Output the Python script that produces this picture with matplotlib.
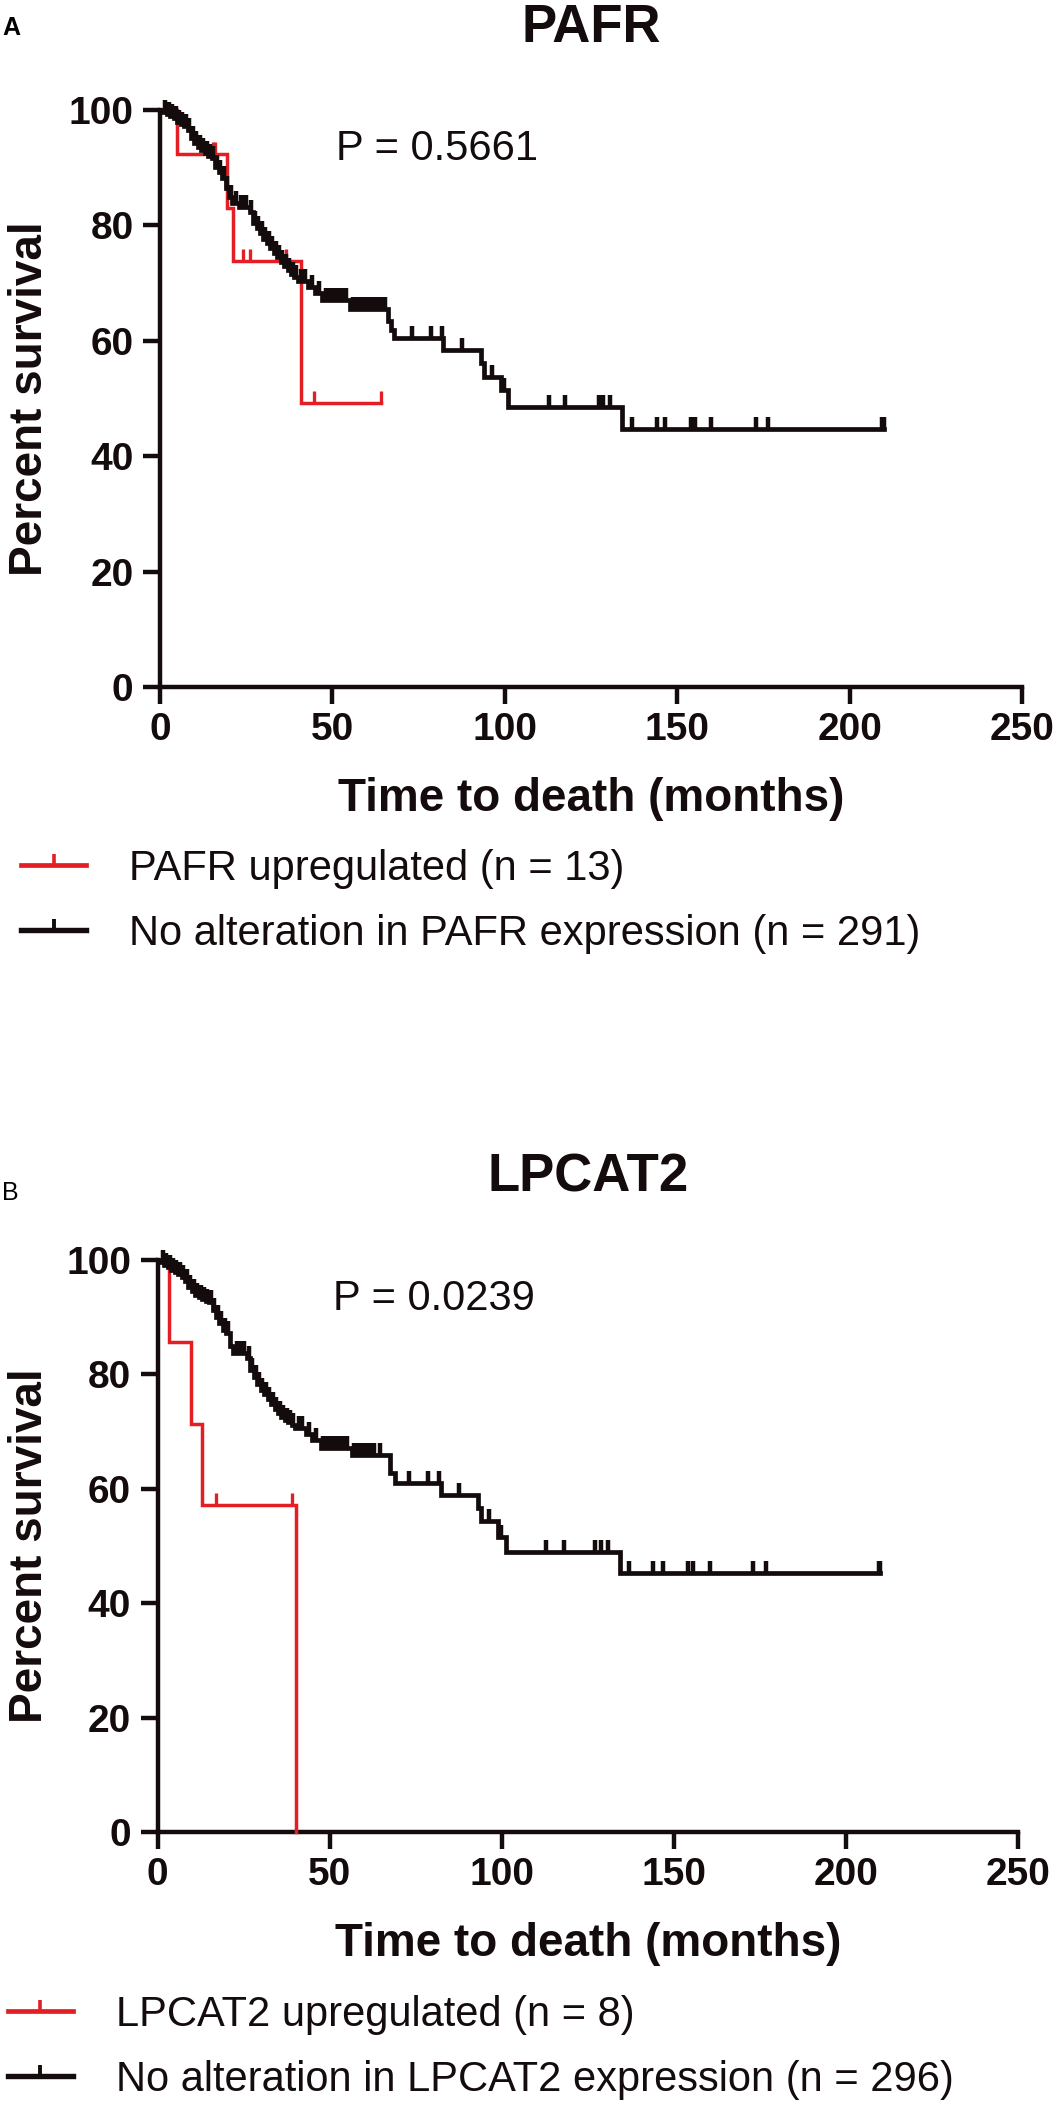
import numpy as np
import matplotlib
matplotlib.use('Agg')
import matplotlib.pyplot as plt
from matplotlib.lines import Line2D

plt.rcParams['font.family'] = ['Liberation Sans', 'DejaVu Sans']

RED = '#e31e24'
BLACK = '#140c0c'

# ---- panel A: PAFR ----
pafr_up_t = [5.0, 19.3, 21.2, 41.0]
pafr_up_s = [92.3, 83.1, 73.8, 49.2]
pafr_up_cens = [15.4, 16.0, 24.1, 26.0, 36.4, 44.8, 64.1]
pafr_up_end = 64.1

pafr_no_t = [1, 2, 3, 4, 5, 6, 7, 8, 9, 10, 11, 12, 13, 14, 15, 16, 17, 18, 19, 20,
             21, 23, 26, 27, 28, 29, 30, 31, 32, 33, 34, 35, 36, 37, 38, 39, 40,
             43, 45, 47, 55, 66, 67, 68, 82, 93, 94, 99, 101, 134]
pafr_no_s = [99.7, 99.3, 99.0, 98.6, 98.0, 97.6, 97.3, 96.6, 95.1, 94.2,
             93.6, 93.0, 92.5, 92.0, 91.6, 90.2, 89.2, 88.2, 86.4, 85.0,
             83.8, 83.2, 82.4, 80.4, 79.5, 78.6, 77.6, 76.9, 76.0, 75.2,
             74.5, 73.7, 73.0, 72.3, 71.6, 71.0, 70.4,
             69.4, 68.2, 67.1, 65.5, 63.5, 61.9, 60.4, 58.4, 56.2, 53.8, 51.5, 48.6, 44.8]
pafr_no_cens = [1.5, 2.5, 3.5, 4.5, 5.5, 6.5, 7.5, 8.5, 9.5, 10.5, 11.5, 12.5, 13.5, 14.5,
                15.5, 16.5, 17.5, 18.5, 19.5, 20.5, 22, 23.5, 24, 25, 26.5, 27.5, 28.5,
                29.5, 30.5, 31.5, 32.5, 33.5, 34.5, 35.5, 36.5, 37.5, 38.5, 39.5, 41, 42,
                44, 46, 48, 49, 50, 51, 52, 53, 54, 56, 57, 58, 59, 60, 61, 62, 63, 64,
                65.3, 73.2, 78.5, 81.9, 87.7, 96.3, 99.7, 112.7, 117.5, 127.2, 128.6,
                130.5, 136.8, 144.0, 146.4, 154.1, 155.1, 159.9, 172.9, 176.3, 209.5, 210]
pafr_no_end = 210

# ---- panel B: LPCAT2 ----
lpcat_up_t = [3.4, 9.6, 13.0, 40.3]
lpcat_up_s = [85.7, 71.4, 57.1, 0.0]
lpcat_up_cens = [16.9, 39.0]
lpcat_up_end = 40.3

lpcat_no_t = [1, 2, 3, 4, 5, 6, 7, 8, 9, 10, 11, 12, 13, 14, 15, 16, 17, 18, 19, 20,
              21, 22, 26, 27, 28, 29, 30, 31, 32, 33, 34, 35, 36, 37, 38, 39, 40,
              43, 45, 47.5, 56.4, 67.5, 69, 82.4, 93, 94, 99, 101.3, 134.4]
lpcat_no_s = [99.6, 99.2, 98.8, 98.3, 97.9, 97.5, 97.1, 96.4, 95.3, 94.5,
              93.9, 93.6, 93.2, 92.9, 92.7, 91.3, 90.1, 89.0, 87.8, 87.2,
              85.0, 83.7, 82.8, 80.8, 79.6, 78.4, 77.3, 76.5, 75.7, 74.9,
              74.0, 73.2, 72.6, 72.0, 71.6, 71.1, 70.6,
              69.6, 68.5, 67.1, 65.9, 62.7, 61.0, 58.9, 56.6, 54.4, 51.6, 49.0, 45.2]
lpcat_no_cens = [1.5, 2.5, 3.5, 4.5, 5.5, 6.5, 7.5, 8.5, 9.5, 10.5, 11.5, 12.5, 13.5, 14.5,
                 15.5, 16.5, 17.5, 18.5, 19.5, 20.5, 23, 24, 25, 26.5, 27.5, 28.5, 29.5,
                 30.5, 31.5, 32.5, 33.5, 34.5, 35.5, 36.5, 37.5, 38.5, 39.5, 41, 42, 44,
                 46, 48, 49, 50, 51, 52, 53, 54, 55, 57, 58, 59, 60, 61, 62, 63, 64.5,
                 73.2, 78.5, 81.9, 87.7, 96.4, 99.8, 112.9, 118.2, 127.0, 128.9, 130.8,
                 137.1, 143.9, 146.8, 154.1, 155.5, 160.4, 173.0, 176.9, 209.5, 210]
lpcat_no_end = 210


def km_curve(ax, times, surv, cens, end, color, lw):
    t = np.array([0] + list(times) + [end], dtype=float)
    s = np.array([100] + list(surv) + [surv[-1]], dtype=float)
    ax.step(t, s, where='post', color=color, lw=lw, clip_on=False, zorder=3,
            solid_joinstyle='miter')
    # censor ticks sit on the curve
    idx = np.searchsorted(t, cens, side='right') - 1
    ax.plot(cens, s[idx], linestyle='none', marker=2, markersize=9,
            markeredgewidth=lw * 0.95, color=color, clip_on=False, zorder=4)


def style_axes(ax):
    ax.set_xlim(0, 250)
    ax.set_ylim(0, 100)
    ax.set_xticks([0, 50, 100, 150, 200, 250])
    ax.set_yticks([0, 20, 40, 60, 80, 100])
    for side in ['top', 'right']:
        ax.spines[side].set_visible(False)
    for side in ['left', 'bottom']:
        ax.spines[side].set_linewidth(3.2)
        ax.spines[side].set_color(BLACK)
        ax.spines[side].set_capstyle('projecting')
    ax.tick_params(axis='both', direction='out', length=12, width=3.2, color=BLACK,
                   labelsize=28, labelcolor=BLACK)
    ax.tick_params(axis='x', pad=6)
    ax.tick_params(axis='y', pad=7)
    for lab in ax.get_xticklabels() + ax.get_yticklabels():
        lab.set_fontweight('bold')
    ax.set_xlabel('Time to death (months)', fontsize=33, fontweight='bold', color=BLACK)
    ax.set_ylabel('Percent survival', fontsize=33, fontweight='bold', color=BLACK)


W, H = 1058, 2121
fig = plt.figure(figsize=(W / 100, H / 100), dpi=100)

panels = [
    dict(rect=(160, 110, 1022, 687), title='PAFR', p='P = 0.5661', letter='A', letter_y=35,
         weight='bold', curves=[(pafr_up_t, pafr_up_s, pafr_up_cens, pafr_up_end, RED, 2.5),
                                (pafr_no_t, pafr_no_s, pafr_no_cens, pafr_no_end, BLACK, 3.4)],
         labels=['PAFR upregulated (n = 13)', 'No alteration in PAFR expression (n = 291)'],
         leg_x=21, leg_y=162),
    dict(rect=(157.5, 1260, 1018, 1832), title='LPCAT2', p='P = 0.0239', letter='B', letter_y=1200,
         weight='normal', curves=[(lpcat_up_t, lpcat_up_s, lpcat_up_cens, lpcat_up_end, RED, 2.5),
                                  (lpcat_no_t, lpcat_no_s, lpcat_no_cens, lpcat_no_end, BLACK, 3.4)],
         labels=['LPCAT2 upregulated (n = 8)', 'No alteration in LPCAT2 expression (n = 296)'],
         leg_x=8, leg_y=163),
]

for pn in panels:
    x0, y0, x1, y1 = pn['rect']
    ax = fig.add_axes([x0 / W, 1 - y1 / H, (x1 - x0) / W, (y1 - y0) / H])
    for c in pn['curves']:
        km_curve(ax, *c)
    style_axes(ax)
    ax_w, ax_h = x1 - x0, y1 - y0
    ax.xaxis.set_label_coords(0.5, -90 / ax_h)
    ax.yaxis.set_label_coords((52 - x0) / ax_w, 0.5)
    ax.set_title(pn['title'], fontsize=38, fontweight='bold', color=BLACK, pad=49)
    ax.text(51, 91.3, pn['p'], fontsize=30, color=BLACK, va='baseline', ha='left')
    fig.text(2 / W, 1 - pn['letter_y'] / H, pn['letter'], fontsize=18,
             fontweight=pn['weight'], va='baseline', ha='left')

    handles = [Line2D([], [], color=RED, lw=3.4, marker=2, markersize=8, markeredgewidth=2.6),
               Line2D([], [], color=BLACK, lw=3.9, marker=2, markersize=8, markeredgewidth=2.8)]
    ax.legend(handles, pn['labels'], loc='upper left', frameon=False, fontsize=30,
              bbox_to_anchor=((pn['leg_x'] - x0) / ax_w, -pn['leg_y'] / ax_h),
              borderaxespad=0, borderpad=0, handlelength=1.56, handletextpad=1.03,
              labelspacing=0.6, numpoints=1, labelcolor=BLACK)

fig.savefig('out.png', dpi=100)
